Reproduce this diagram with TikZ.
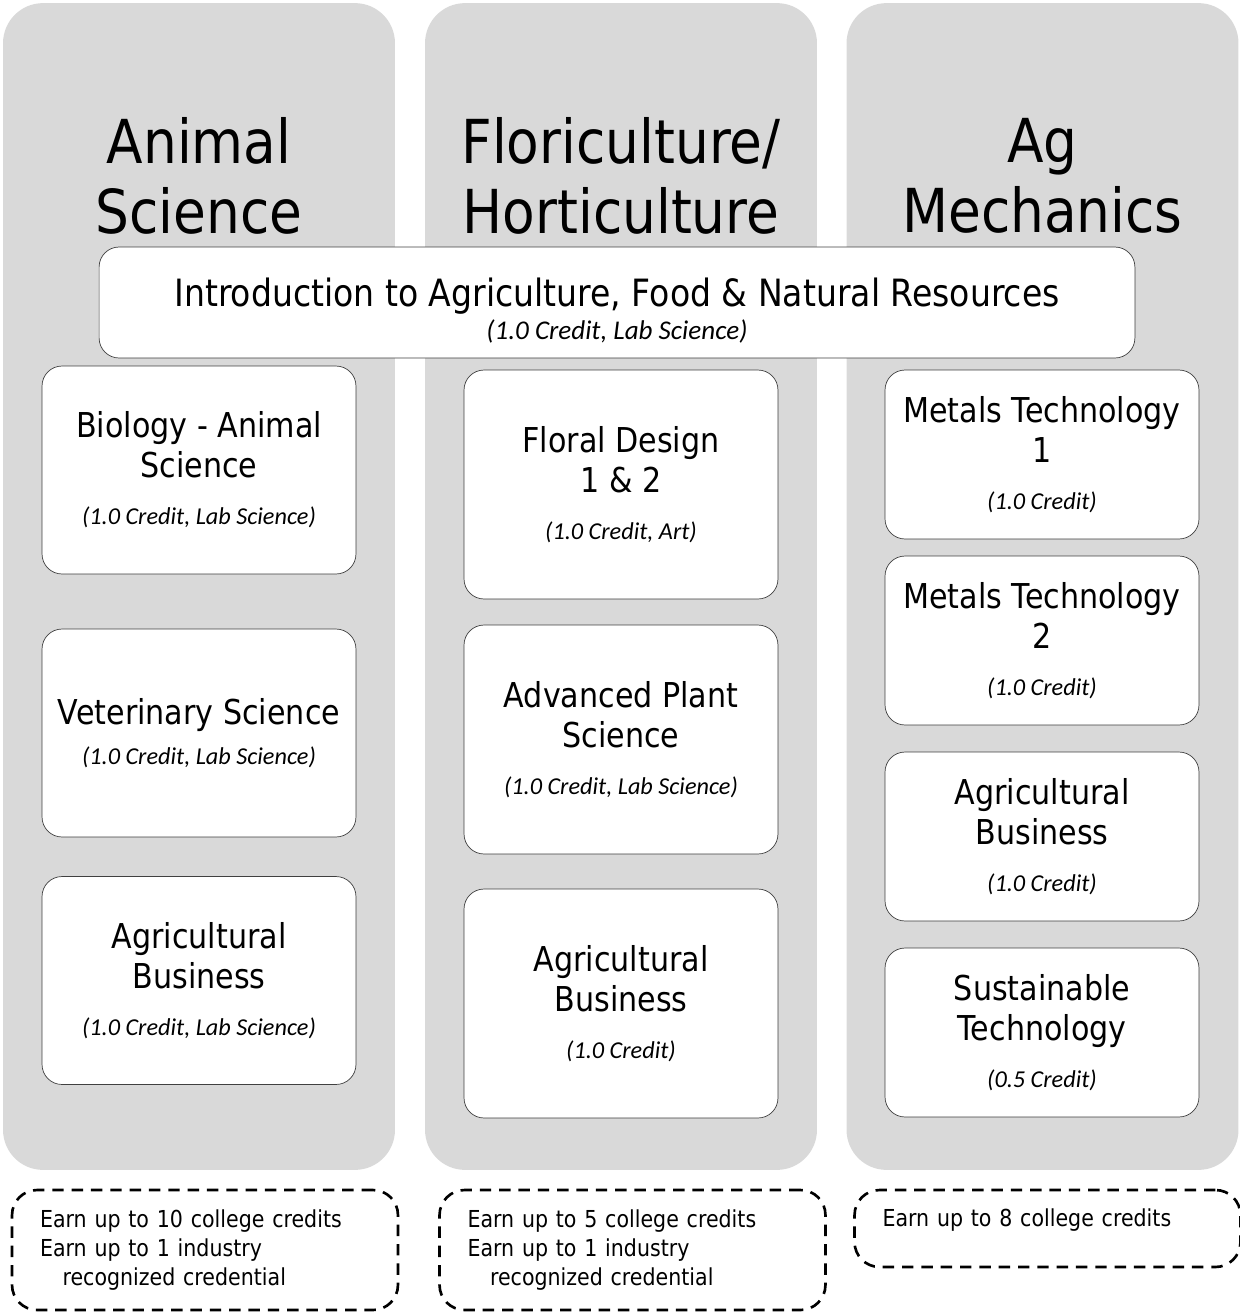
\documentclass[tikz,border=0pt]{standalone}
\usepackage{fontspec}
\setmainfont{DejaVu Sans}[FakeStretch=0.88]
\newfontfamily\creditfont{Carlito}
\usepackage{tikz}

\definecolor{colgray}{HTML}{D9D9D9}
\definecolor{boxline}{HTML}{404040}

\newcommand{\credit}[1]{{\creditfont\itshape\fontsize{13.8}{15}\selectfont #1}}

\begin{document}
\begin{tikzpicture}[x=0.02cm,y=-0.02cm,
    column/.style={fill=colgray,rounded corners=0.8cm,minimum width=7.84cm,minimum height=23.34cm,inner sep=0pt},
    head/.style={align=center,font=\fontsize{34.5}{39.5}\selectfont},
    course/.style={draw=boxline,fill=white,rounded corners=0.4cm,minimum width=6.28cm,align=center,inner sep=0pt,font=\fontsize{19.5}{22.7}\selectfont},
    earn/.style={draw=black,dash pattern=on 6.5pt off 4.5pt,line width=1.5pt,rounded corners=0.5cm,minimum width=7.72cm,text width=6.6cm,align=left,font=\fontsize{13.3}{16.4}\selectfont}]

    \useasboundingbox (0,0) rectangle (1240,1312);

    % grey columns
    \node[column] (animal) at (199, 586.5) {};
    \node[column] (flori) at (621, 586.5) {};
    \node[column] (mech) at (1042.5, 586.5) {};

    \node[head] (animalhead) at (199, 176) {Animal\\Science};
    \node[head] (florihead) at (621, 176) {Floriculture/\\Horticulture};
    \node[head] (mechhead) at (1042.5, 176) {Ag\\Mechanics};

    % intro course across all columns
    \node[course,minimum width=20.72cm,minimum height=2.22cm,font=\fontsize{21.4}{24}\selectfont] (intro) at (617, 302.5)
        {\rule{0pt}{0.9cm}Introduction to Agriculture, Food \& Natural Resources\\[-5pt]{\creditfont\itshape\fontsize{15.4}{17}\selectfont (1.0 Credit, Lab Science)}};

    % animal science
    \node[course,minimum height=4.16cm] (bio) at (199, 470)
        {Biology - Animal\\Science\\[4pt]\credit{(1.0 Credit, Lab Science)}};
    \node[course,minimum height=4.16cm] (vet) at (199, 733)
        {Veterinary Science\\\credit{(1.0 Credit, Lab Science)}};
    \node[course,minimum height=4.16cm] (busa) at (199, 980.5)
        {Agricultural\\Business\\[4pt]\credit{(1.0 Credit, Lab Science)}};

    % floriculture / horticulture
    \node[course,minimum height=4.58cm] (floral) at (621, 484.5)
        {Floral Design\\1 \& 2\\[4pt]\credit{(1.0 Credit, Art)}};
    \node[course,minimum height=4.58cm] (plant) at (621, 739.5)
        {Advanced Plant\\Science\\[4pt]\credit{(1.0 Credit, Lab Science)}};
    \node[course,minimum height=4.58cm] (busf) at (621, 1003.5)
        {Agricultural\\Business\\[4pt]\credit{(1.0 Credit)}};

    % ag mechanics
    \node[course,minimum height=3.38cm] (metala) at (1042, 454.5)
        {Metals Technology\\1\\[4pt]\credit{(1.0 Credit)}};
    \node[course,minimum height=3.38cm] (metalb) at (1042, 640.5)
        {Metals Technology\\2\\[4pt]\credit{(1.0 Credit)}};
    \node[course,minimum height=3.38cm] (busm) at (1042, 836.5)
        {Agricultural\\Business\\[4pt]\credit{(1.0 Credit)}};
    \node[course,minimum height=3.38cm] (sust) at (1042, 1032.5)
        {Sustainable\\Technology\\[4pt]\credit{(0.5 Credit)}};

    % credits earned
    \node[earn,minimum height=2.4cm] (earna) at (205, 1250)
        {Earn up to 10 college credits\\Earn up to 1 industry\\\hspace*{0.45cm}recognized credential};
    \node[earn,minimum height=2.4cm] (earnf) at (632.5, 1250)
        {Earn up to 5 college credits\\Earn up to 1 industry\\\hspace*{0.45cm}recognized credential};
    \node[earn,minimum height=1.54cm] (earnm) at (1047.5, 1228.5)
        {Earn up to 8 college credits\\[-4pt]\mbox{}};

\end{tikzpicture}
\end{document}
